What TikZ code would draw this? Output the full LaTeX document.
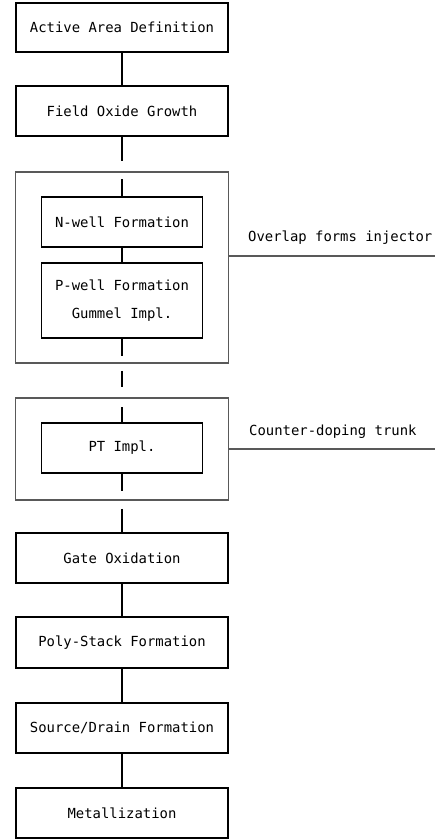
\documentclass[tikz,border=0pt]{standalone}
\usepackage{fontspec}
\setmonofont{DejaVu Sans Mono}
\begin{document}
\begin{tikzpicture}[x=1pt,y=-1pt,
  txt/.style={font=\ttfamily\fontsize{13.9}{28}\selectfont},
  stepbox/.style={txt, draw, line width=1.3pt, inner sep=0pt, align=center, minimum width=212pt, minimum height=50pt},
  innerbox/.style={stepbox, minimum width=161pt},
  outerbox/.style={draw=black!65, line width=1.8pt, inner sep=0pt},
  link/.style={line width=1.3pt},
  sidelink/.style={draw=black!65, line width=1.8pt},
  lbl/.style={txt, anchor=west, inner sep=0pt}]
\useasboundingbox (0,0) rectangle (435,839);
% main steps
\node[stepbox, minimum height=49pt] (b1) at (122,27.5) {Active Area Definition};
\node[stepbox] (b2) at (122,111) {Field Oxide Growth};
% well group
\node[outerbox, minimum width=213pt, minimum height=191pt] (o1) at (122,267.5) {};
\node[innerbox] (n) at (122,222) {N-well Formation};
\node[innerbox, minimum height=75pt] (p) at (122,300.5) {P-well Formation\\Gummel Impl.};
% PT group
\node[outerbox, minimum width=213pt, minimum height=102pt] (o2) at (122,449) {};
\node[innerbox] (pt) at (122,448) {PT Impl.};
% remaining steps
\node[stepbox] (g) at (122,558) {Gate Oxidation};
\node[stepbox, minimum height=51pt] (ps) at (122,642.5) {Poly-Stack Formation};
\node[stepbox] (sd) at (122,728) {Source/Drain Formation};
\node[stepbox] (m) at (122,813) {Metallization};
% connectors
\draw[link] (b1) -- (b2);
\draw[link, shorten >=10pt] (b2) -- (o1.north);
\draw[link, shorten <=8pt] (o1.north) -- (n.north);
\draw[link] (n) -- (p);
\draw[link, shorten >=8pt] (p.south) -- (o1.south);
\draw[link, shorten <=7pt, shorten >=10pt] (o1.south) -- (o2.north);
\draw[link, shorten <=10pt] (o2.north) -- (pt.north);
\draw[link, shorten >=10pt] (pt.south) -- (o2.south);
\draw[link, shorten <=8pt] (o2.south) -- (g.north);
\draw[link] (g) -- (ps);
\draw[link] (ps) -- (sd);
\draw[link] (sd) -- (m);
% side annotations
\node[lbl] (l1) at (248,238) {Overlap forms injector};
\node[lbl] (l2) at (249,432) {Counter-doping trunk};
\coordinate (e1) at (435,256);
\coordinate (e2) at (435,449);
\draw[sidelink] (e1 -| o1.east) -- (e1);
\draw[sidelink] (o2.east) -- (e2);
\end{tikzpicture}
\end{document}
